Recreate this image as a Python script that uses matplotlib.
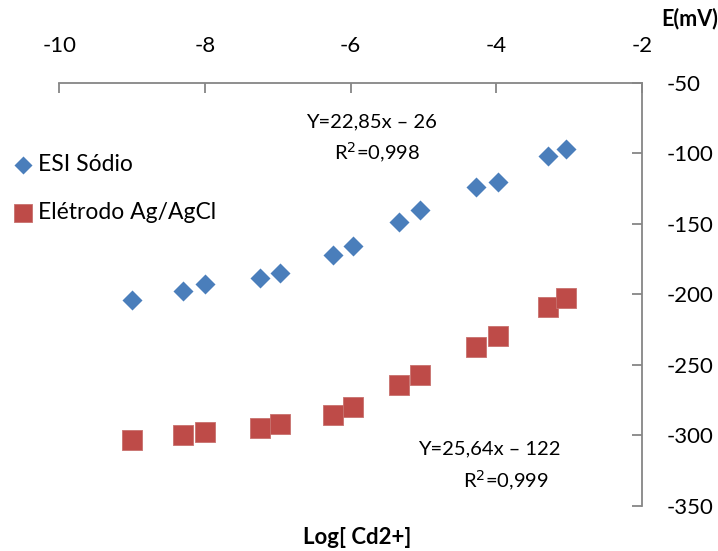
import numpy as np
import matplotlib.pyplot as plt

plt.rcParams['font.family'] = ['Lato', 'DejaVu Sans']
plt.rcParams['axes.unicode_minus'] = False

# log da concentração de Cd2+ e potenciais medidos (mV)
log_cd = [-9.0, -8.3, -8.0, -7.24, -6.97, -6.24, -5.97, -5.33, -5.05, -4.28, -3.98, -3.29, -3.04]
e_esi = [-204, -198, -192.6, -188.5, -185, -171.8, -165.7, -148.9, -139.9, -124.1, -120.1, -101.9, -97]
e_ag = [-303, -300, -297.4, -294.8, -291.7, -285.6, -280.2, -264.1, -257, -237.2, -229.4, -208.8, -202.7]

x_ticks = [-10, -8, -6, -4, -2]
y_ticks = [-50, -100, -150, -200, -250, -300, -350]

fig = plt.figure(figsize=(7.18, 5.51), dpi=100)
ax = fig.add_axes([0.0826, 0.0817, 0.8115, 0.7683])

ax.scatter(log_cd, e_esi, marker='D', s=10.2 ** 2, color='#4A7EBB', linewidths=0,
           label='ESI Sódio', zorder=3)
ax.scatter(log_cd, e_ag, marker='s', s=14.4 ** 2, color='#BE4B48', edgecolors='#C8716E',
           linewidths=0.6, label='Elétrodo Ag/AgCl', zorder=3)

ax.set_xlim(-10, -2)
ax.set_ylim(-350, -50)
ax.set_xticks(x_ticks)
ax.set_yticks(y_ticks)

# eixos no topo e à direita, como no Excel
for side in ['left', 'bottom']:
    ax.spines[side].set_visible(False)
for side in ['top', 'right']:
    ax.spines[side].set_color('#868686')
    ax.spines[side].set_linewidth(1.3)
ax.xaxis.tick_top()
ax.yaxis.tick_right()
ax.tick_params(axis='x', direction='in', length=7, width=1.3, color='#868686',
               labelsize=16, pad=19)
ax.tick_params(axis='y', direction='in', length=7, width=1.3, color='#868686',
               labelsize=16, pad=18)

fig.text(0.961, 0.967, 'E(mV)', fontsize=15.5, fontweight='bold', ha='center', va='center')
fig.text(0.497, 0.025, 'Log[ Cd2+]', fontsize=16, fontweight='bold', ha='center', va='center')

ax.text(-5.71, -78, 'Y=22,85x – 26', fontsize=14.5, ha='center', va='center')
ax.text(-5.63, -100, 'R$^2$=0,998', fontsize=14.5, ha='center', va='center')
ax.text(-4.09, -309.5, 'Y=25,64x – 122', fontsize=14.5, ha='center', va='center')
ax.text(-3.87, -332, 'R$^2$=0,999', fontsize=14.5, ha='center', va='center')

leg = fig.legend(loc='upper left', bbox_to_anchor=(0.0, 0.749), frameon=False,
                 fontsize=16.5, handlelength=0.6, handletextpad=0.35, labelspacing=1.15,
                 markerscale=0.9, borderaxespad=0.3)

fig.savefig('out.png', dpi=100)
